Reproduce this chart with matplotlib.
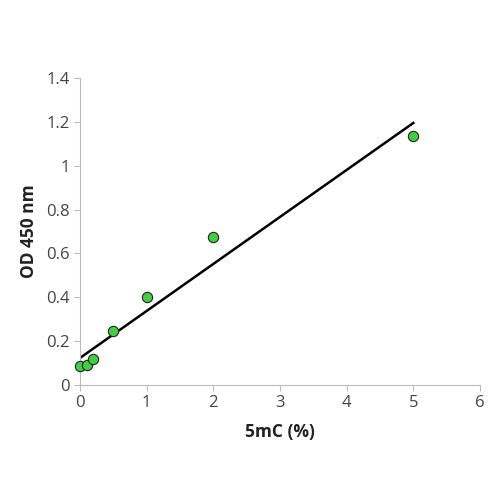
import matplotlib
matplotlib.use("Agg")
import matplotlib.pyplot as plt
import numpy as np

plt.rcParams['font.family'] = ['Open Sans', 'DejaVu Sans']

x = [0, 0.1, 0.2, 0.5, 1, 2, 5]
y = [0.085, 0.09, 0.12, 0.245, 0.40, 0.675, 1.135]

fig = plt.figure(figsize=(5, 5), dpi=100)
ax = fig.add_axes([0.16, 0.23, 0.8, 0.614])

m, b = np.polyfit(x, y, 1)
xl = np.array([0, 5])
ax.plot(xl, m * xl + b, color='black', lw=1.8, zorder=2)
ax.scatter(x, y, s=55, color='#44cc44', edgecolor='#222222', linewidth=0.8, zorder=3, clip_on=False)

ax.set_xlim(0, 6)
ax.set_ylim(0, 1.4)
ax.set_xticks(range(0, 7))
ax.set_yticks([0, 0.2, 0.4, 0.6, 0.8, 1, 1.2, 1.4])
ax.set_yticklabels(['0', '0.2', '0.4', '0.6', '0.8', '1', '1.2', '1.4'])
for s in ['top', 'right']:
    ax.spines[s].set_visible(False)
for s in ['left', 'bottom']:
    ax.spines[s].set_color('#bbbbbb')
ax.tick_params(colors='#444444', labelsize=12, length=4, color='#bbbbbb')
ax.set_xlabel('5mC (%)', fontsize=12.5, fontweight='bold', color='#222222', labelpad=8)
ax.set_ylabel('OD 450 nm', fontsize=12.5, fontweight='bold', color='#222222', labelpad=6)

fig.savefig('out.png', dpi=100)
